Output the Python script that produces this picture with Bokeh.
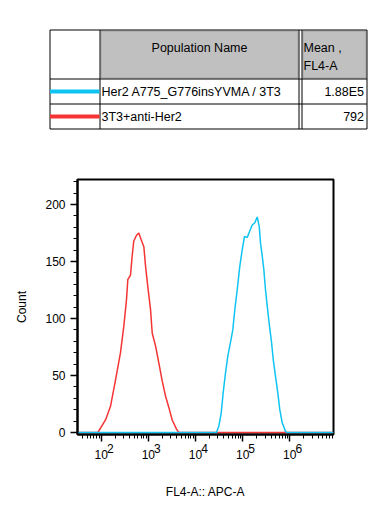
import numpy as np
from bokeh.plotting import figure
from bokeh.layouts import column
from bokeh.models import (Range1d, FixedTicker, ColumnDataSource, LogAxis,
                          CustomJSTickFormatter)
from bokeh.core.properties import value
from bokeh.embed import file_html
from bokeh.resources import INLINE

FONT = "Liberation Sans"

# ---------------- data ----------------
populations = ["Her2 A775_G776insYVMA / 3T3", "3T3+anti-Her2"]
mean_fl4a = ["1.88E5", "792"]
colors = ["#0fc4f2", "#f53434"]

# FL4-A (log10 of intensity) and counts
red_log10 = [1.497, 1.928, 2.091, 2.197, 2.303, 2.409, 2.479, 2.537, 2.564, 2.621,
             2.657, 2.691, 2.749, 2.797, 2.848, 2.904, 2.940, 2.988, 3.046, 3.082,
             3.152, 3.222, 3.294, 3.364, 3.434, 3.506, 3.597, 3.646, 6.927]
red_count = [0, 0, 11, 23, 46, 70, 93, 117, 134, 138,
             155, 168, 173, 175, 169, 163, 146, 128, 108, 87,
             76, 61, 45, 32, 22, 11, 3, 0, 0]

cyan_log10 = [1.497, 4.445, 4.494, 4.545, 4.587, 4.636, 4.685, 4.742, 4.791, 4.834,
              4.884, 4.940, 4.990, 5.039, 5.097, 5.145, 5.203, 5.258, 5.309, 5.351,
              5.379, 5.415, 5.449, 5.485, 5.521, 5.570, 5.613, 5.649, 5.698, 5.745,
              5.788, 5.839, 5.909, 5.945, 6.927]
cyan_count = [0, 0, 5.5, 17, 35, 52, 67, 79, 90, 108,
              125, 146, 160, 172, 171, 176, 182, 184, 189, 181,
              166, 155, 143, 125, 111, 93, 79, 64, 49, 35,
              20, 8.5, 1, 0, 0]

x_exponents = [2, 3, 4, 5, 6]
y_ticks = [0, 50, 100, 150, 200]
x_min_log, x_max_log = 1.497, 6.927
y_min, y_max = -1.75, 221.9

# ---------------- table ----------------
W = 376
TH = 168
t = figure(width=W, height=TH, x_range=Range1d(0, W), y_range=Range1d(TH, 0),
           output_backend="svg", toolbar_location=None,
           x_axis_location=None, y_axis_location=None, min_border=0,
           frame_align=False)
t.grid.visible = False
t.outline_line_color = None

col_x = [49.5, 99.5, 298.5, 301.5, 366.5]
row_y = [29.5, 78.5, 103.5, 128.5]

# gray header cells
t.quad(left=[100.5, 302.5], right=[297.5, 365.5], top=[30.5, 30.5], bottom=[77.5, 77.5],
       fill_color="#c0c0c0", line_color="#a4a4a4", line_width=1)

# grid lines
t.segment(x0=[col_x[0]] * 4, x1=[col_x[-1]] * 4, y0=row_y, y1=row_y,
          line_color="black", line_width=1)
t.segment(x0=col_x, x1=col_x, y0=[row_y[0]] * 5, y1=[row_y[-1]] * 5,
          line_color="black", line_width=1)

row_h = row_y[2] - row_y[1]
row_c = [row_y[1] + row_h * (i + 0.5) for i in range(len(populations))]
src = ColumnDataSource(dict(name=populations, mean=mean_fl4a, color=colors, y=row_c,
                            x0=[col_x[0]] * 2, x1=[col_x[1] - 0.5] * 2,
                            xn=[col_x[1] + 1.5] * 2, xm=[col_x[-1] - 3] * 2))
t.segment(x0="x0", x1="x1", y0="y", y1="y", line_color="color", line_width=4, source=src)
t.text(x="xn", y="y", text="name", source=src, text_font=value(FONT),
       text_font_size="12.5px", text_baseline="middle", text_align="left", text_color="black")
t.text(x="xm", y="y", text="mean", source=src, text_font=value(FONT),
       text_font_size="12.5px", text_baseline="middle", text_align="right", text_color="black")
t.text(x=[199], y=[47.5], text=["Population Name"], text_font=value(FONT),
       text_font_size="12.5px", text_baseline="middle", text_align="center", text_color="black")
t.text(x=[303, 303], y=[47.5, 65], text=["Mean ,", "FL4-A"], text_font=value(FONT),
       text_font_size="12.5px", text_baseline="middle", text_align="left", text_color="black")

# ---------------- histogram ----------------
PH = 504 - TH
p = figure(width=W, height=PH, x_axis_type="log",
           x_range=Range1d(10 ** x_min_log, 10 ** x_max_log),
           y_range=Range1d(y_min, y_max),
           output_backend="svg", toolbar_location=None,
           min_border_left=77, min_border_right=43, min_border_top=11, min_border_bottom=70,
           frame_align=False)
p.grid.visible = False
p.outline_line_color = "black"
p.outline_line_width = 2
p.background_fill_color = "white"
p.border_fill_color = "white"

p.line(x=10 ** np.array(red_log10), y=red_count, line_color=colors[1], line_width=1.5)
p.line(x=10 ** np.array(cyan_log10), y=cyan_count, line_color=colors[0], line_width=1.5)

majors = [10.0 ** e for e in x_exponents]
minors = [m * 10.0 ** k for k in range(1, 7) for m in range(1, 10)
          if 10 ** x_min_log <= m * 10.0 ** k <= 10 ** x_max_log]
p.xaxis.ticker = FixedTicker(ticks=majors, minor_ticks=minors)
# exponent row (nearest the axis), shifted right of the tick with en spaces
p.xaxis.formatter = CustomJSTickFormatter(
    code="return '\\u2002\\u2002\\u2002' + Math.round(Math.log10(tick)).toString()")
p.yaxis.ticker = FixedTicker(ticks=y_ticks, minor_ticks=list(range(0, 230, 10)))

for ax in (p.xaxis[0], p.yaxis[0]):
    ax.axis_line_width = 2
    ax.axis_line_color = "black"
    ax.major_tick_in = 0
    ax.minor_tick_in = 0
    ax.major_tick_out = 7
    ax.minor_tick_out = 4
    ax.major_tick_line_width = 1.5
    ax.minor_tick_line_width = 1
    ax.major_label_text_font = FONT
    ax.major_label_text_font_size = "12px"
    ax.major_label_text_color = "black"
    ax.axis_label_text_font = FONT
    ax.axis_label_text_font_size = "12px"
    ax.axis_label_text_font_style = "normal"
    ax.axis_label_text_color = "black"

p.xaxis.major_label_standoff = 0
p.yaxis.axis_label = "Count"
p.yaxis.major_label_standoff = 5
p.yaxis.axis_label_standoff = 13

# base "10" row
base_axis = LogAxis(ticker=FixedTicker(ticks=majors, minor_ticks=[]),
                    formatter=CustomJSTickFormatter(code="return '10'"),
                    axis_line_color=None, major_tick_line_color=None,
                    minor_tick_line_color=None, major_tick_out=0, major_tick_in=0,
                    minor_tick_out=0, minor_tick_in=0,
                    major_label_standoff=-9,
                    major_label_text_font=FONT, major_label_text_font_size="12px",
                    major_label_text_color="black",
                    axis_label="FL4-A:: APC-A", axis_label_standoff=23,
                    axis_label_text_font=FONT, axis_label_text_font_size="12px",
                    axis_label_text_font_style="normal", axis_label_text_color="black")
p.add_layout(base_axis, "below")

layout = column(t, p, spacing=0)
open("out.html", "w").write(file_html(layout, INLINE))
